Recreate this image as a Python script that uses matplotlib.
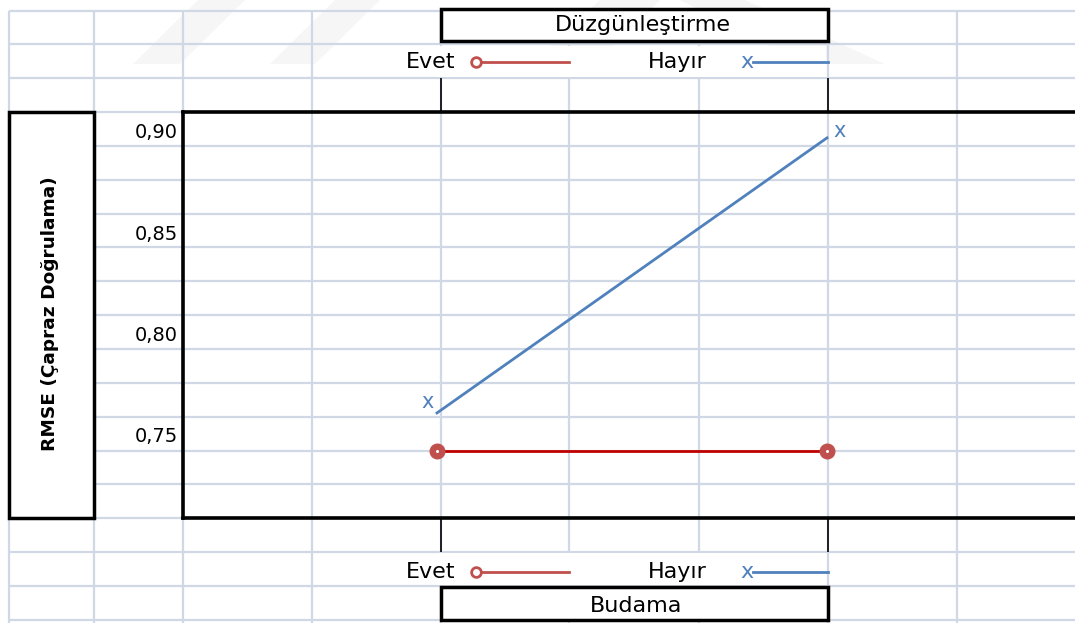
import matplotlib
matplotlib.use("Agg")
import matplotlib.pyplot as plt
from matplotlib.patches import Rectangle, Polygon
import matplotlib.transforms as mtransforms

# veriler
budama = ['Evet', 'Hayır']
evet_rmse = [0.750, 0.750]      # Düzgünleştirme = Evet
hayir_rmse = [0.7685, 0.904]    # Düzgünleştirme = Hayır
y_ticks = [0.75, 0.80, 0.85, 0.90]
y_tick_labels = ['0,75', '0,80', '0,85', '0,90']
legend_labels = ['Evet', 'Hayır']
top_title = 'Düzgünleştirme'
bottom_title = 'Budama'
y_label = 'RMSE (Çapraz Doğrulama)'

W, H = 1075, 623
RED = '#C0504D'
RED_LINE = '#C00000'
BLUE = '#4F81BD'
GRID = '#D0D7E5'

fig = plt.figure(figsize=(W / 100, H / 100), dpi=100)

# arka plan: tablo hücreleri (piksel koordinatları)
bg = fig.add_axes([0, 0, 1, 1])
bg.set_xlim(0, W)
bg.set_ylim(H, 0)
bg.axis('off')

# soluk filigran şeritleri
for pts in ([(133, 64), (180, 64), (245, 0), (198, 0)],
            [(270, 64), (315, 64), (380, 0), (335, 0)],
            [(530, 64), (595, 64), (660, 0), (600, 0)],
            [(680, 0), (745, 0), (885, 64), (805, 64)]):
    bg.add_patch(Polygon(pts, closed=True, facecolor='#F6F6F6', edgecolor='none', zorder=0.5))

cols = [9, 94, 183, 312, 441, 569, 699, 828, 957]
rows = [10.5 + 33.85 * i for i in range(19)]

bg.hlines(rows, 9, W, color=GRID, lw=1.6, zorder=1)
bg.vlines(cols, rows[0], H, color=GRID, lw=1.6, zorder=1)

# lejant satırları beyaz
for r in (1, 16):
    bg.add_patch(Rectangle((437, rows[r] + 1.2), 389, rows[r + 1] - rows[r] - 2.4,
                           facecolor='white', edgecolor='none', zorder=2))

# kutular
bg.add_patch(Rectangle((9, rows[3]), 85, rows[15] - rows[3], facecolor='white',
                       edgecolor='black', lw=2.5, zorder=3))
bg.add_patch(Rectangle((441, 8.5), 387, 32, facecolor='white',
                       edgecolor='black', lw=2.5, zorder=3))
bg.add_patch(Rectangle((441, rows[17] + 1), 387, 33, facecolor='white',
                       edgecolor='black', lw=2.5, zorder=3))

# küçük dikey çizgiler
bg.vlines([441, 828], rows[2], rows[3], color='black', lw=1.2, zorder=3)
bg.vlines([441, 828], rows[15], rows[16], color='black', lw=1.2, zorder=3)

bg.text(50, 314, y_label, rotation=90, ha='center', va='center',
        fontsize=13.3, fontweight='bold', zorder=4)
bg.text(643, 25, top_title, ha='center', va='center', fontsize=16, zorder=4)
bg.text(636, 606, bottom_title, ha='center', va='center', fontsize=16, zorder=4)

# lejantlar
for ly in (62, 572):
    bg.text(455, ly, legend_labels[0], ha='right', va='center', fontsize=16, zorder=4)
    bg.plot([476, 569], [ly, ly], color=RED, lw=2, zorder=4)
    bg.plot([476], [ly], 'o', ms=7, mfc='white', mec=RED, mew=2, zorder=5)
    bg.text(648, ly, legend_labels[1], ha='left', va='center', fontsize=16, zorder=4)
    bg.text(747, ly, 'x', ha='center', va='center', fontsize=16, color=BLUE, zorder=4)
    bg.plot([753, 828], [ly, ly], color=BLUE, lw=2, zorder=4)

# grafik alanı
px0, px_per = 437, 390
v0, py0, py_per = 0.75, 450.5, 2030.0
top_px, bot_px = rows[3], rows[15]
ax = fig.add_axes([183 / W, 1 - bot_px / H, (W - 183) / W + 0.02, (bot_px - top_px) / H])
ax.set_facecolor('none')
ax.set_xlim((183 - px0) / px_per, (W + 0.02 * W - px0) / px_per)
ax.set_ylim(v0 - (bot_px - py0) / py_per, v0 + (py0 - top_px) / py_per)
ax.set_xticks([])
ax.set_yticks([])
for s in ('left', 'top', 'bottom'):
    ax.spines[s].set_linewidth(2.6)
    ax.spines[s].set_color('black')
ax.spines['right'].set_visible(False)

x = list(range(len(budama)))
ax.plot(x, evet_rmse, color=RED_LINE, lw=2, zorder=3)
ax.plot(x, evet_rmse, 'o', ms=10.5, color=RED, zorder=4)
ax.plot(x, evet_rmse, 'o', ms=1.2, color='white', zorder=5)
ax.plot(x, hayir_rmse, color=BLUE, lw=2, zorder=3)
ax.annotate('x', (x[0], hayir_rmse[0]), xytext=(-9, 11), textcoords='offset pixels',
            ha='center', va='center', fontsize=15, color=BLUE)
ax.annotate('x', (x[1], hayir_rmse[1]), xytext=(13, 7), textcoords='offset pixels',
            ha='center', va='center', fontsize=15, color=BLUE)

trans = mtransforms.blended_transform_factory(ax.transAxes, ax.transData)
for v, lab in zip(y_ticks, y_tick_labels):
    ax.annotate(lab, (0, v), xycoords=trans, xytext=(-5, 8), textcoords='offset pixels',
                ha='right', va='baseline', fontsize=14, annotation_clip=False)

fig.savefig('out.png', dpi=100)
